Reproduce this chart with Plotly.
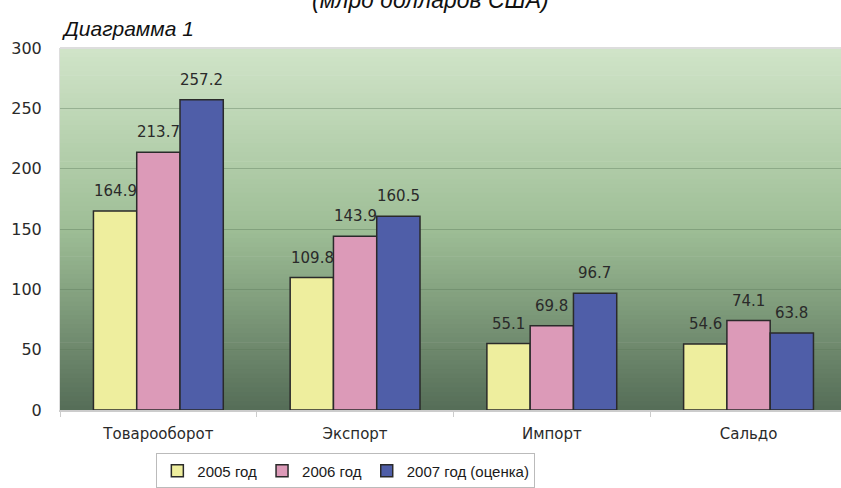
import plotly.graph_objects as go

categories = ["Товарооборот", "Экспорт", "Импорт", "Сальдо"]
series_names = ["2005 год", "2006 год", "2007 год (оценка)"]
v2005 = [164.9, 109.8, 55.1, 54.6]
v2006 = [213.7, 143.9, 69.8, 74.1]
v2007 = [257.2, 160.5, 96.7, 63.8]
y_ticks = [0, 50, 100, 150, 200, 250, 300]

colors = ["#eeee9e", "#dc9ab8", "#4f5ea8"]
series = [v2005, v2006, v2007]

FONT = "Liberation Sans, Arial"
WIDE = "DejaVu Sans, Liberation Sans"

fig = go.Figure()
for name, vals, col in zip(series_names, series, colors):
    fig.add_trace(go.Bar(
        x=categories, y=vals, name=name,
        marker=dict(color=col, line=dict(color="#2a2a2a", width=1.5)),
        hoverinfo="skip",
    ))

# value labels above bars
bar_px = 43
for i, vals in enumerate(series):
    for c, v in zip(categories, vals):
        fig.add_annotation(
            x=c, y=v, xref="x", yref="y", text=f"{v:.1f}", showarrow=False,
            xshift=(i - 1) * bar_px, yshift=20,
            font=dict(family=WIDE, size=15, color="#2a2a2a"),
        )

# gradient background via thin stacked rectangles
top = (208, 228, 200)
mid = (158, 190, 150)
bot = (86, 110, 88)
n = 80
for k in range(n):
    t = k / (n - 1)  # 0 top -> 1 bottom
    if t < 0.5:
        s = t / 0.5
        c = [round(top[j] + (mid[j] - top[j]) * s) for j in range(3)]
    else:
        s = (t - 0.5) / 0.5
        c = [round(mid[j] + (bot[j] - mid[j]) * s) for j in range(3)]
    y1 = 1 - k / n
    y0 = 1 - (k + 1) / n
    fig.add_shape(type="rect", xref="x domain", yref="y domain",
                  x0=0, x1=1, y0=y0 - 0.002, y1=y1,
                  fillcolor=f"rgb({c[0]},{c[1]},{c[2]})", line=dict(width=0),
                  layer="below")

fig.add_annotation(text="Диаграмма 1", xref="paper", yref="paper",
                   x=0.0, y=1.0, yshift=6, xshift=0, xanchor="left", yanchor="bottom",
                   showarrow=False,
                   font=dict(family=FONT, size=21, color="#111111", style="italic"))
fig.add_annotation(text="(млрд долларов США)", xref="paper", yref="paper",
                   x=0.474, y=1.0, yshift=33, xanchor="center", yanchor="bottom",
                   showarrow=False,
                   font=dict(family=FONT, size=23, color="#111111", style="italic"))

fig.update_layout(
    width=841, height=488,
    margin=dict(l=60, r=0, t=48, b=78, autoexpand=False),
    paper_bgcolor="white", plot_bgcolor="rgba(0,0,0,0)",
    barmode="group", bargap=0.34, bargroupgap=0,
    showlegend=True,
    legend=dict(orientation="h", x=0.366, xanchor="center", y=-0.12, yanchor="top",
                font=dict(family=FONT, size=15, color="#1a1a1a"),
                bordercolor="#bbbbbb", borderwidth=1, bgcolor="white",
                itemwidth=30, tracegroupgap=0),
    font=dict(family=FONT, color="#333333"),
)
fig.update_xaxes(range=[-0.5, 3.47], showgrid=False, showline=True, automargin=False,
                 linecolor="#cccccc", linewidth=1.5, ticks="outside",
                 tickson="boundaries", ticklen=5, tickcolor="#cccccc",
                 ticklabelstandoff=9,
                 tickfont=dict(family=WIDE, size=15, color="#2a2a2a"))
fig.update_yaxes(range=[0, 300], tickvals=y_ticks, showgrid=True, automargin=False,
                 gridcolor="rgba(90,120,90,0.4)", gridwidth=1,
                 showline=True, linecolor="#dddddd", zeroline=False,
                 ticks="", ticklabelstandoff=14,
                 tickfont=dict(family=WIDE, size=16, color="#2a2a2a"))
fig.add_shape(type="line", xref="x domain", yref="y domain", x0=0, x1=1, y0=1, y1=1,
              line=dict(color="#dddddd", width=2))

fig.write_html("out.html", config={"displayModeBar": False},
               post_script="document.body.style.margin='0px';document.body.style.overflow='hidden';")
